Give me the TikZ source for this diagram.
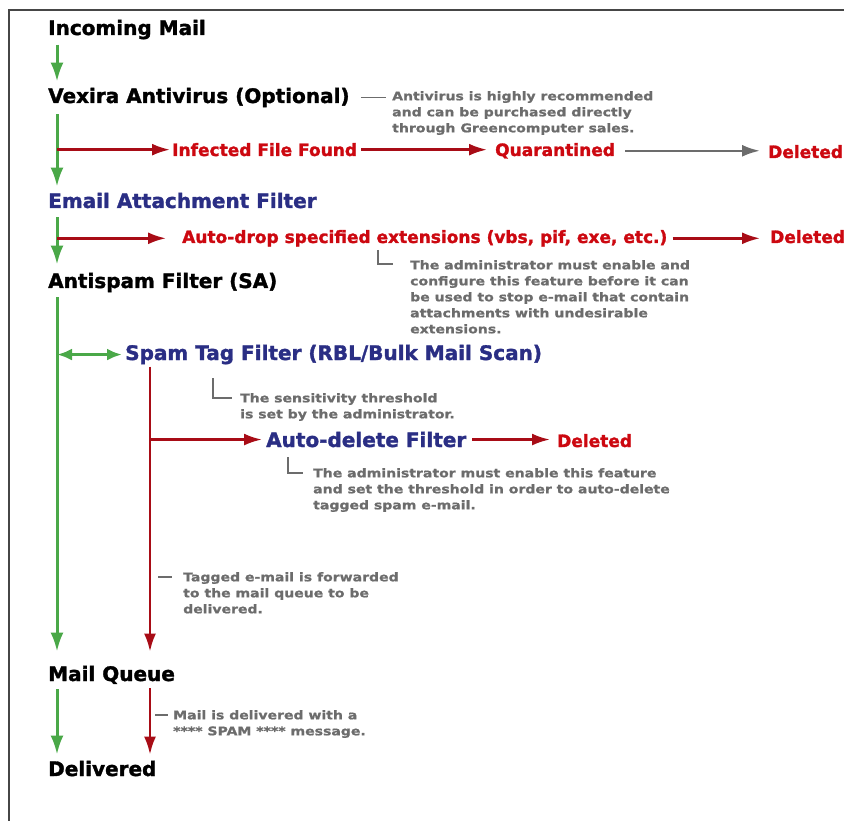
\documentclass[tikz,border=0pt]{standalone}
\usepackage{fontspec}
\usetikzlibrary{arrows.meta}
\newfontfamily\headfont{DejaVu Sans}[BoldFeatures={FakeBold=1.6}]
\newfontfamily\notefont{DejaVu Sans}[FakeStretch=1.17,BoldFeatures={FakeBold=1}]
\definecolor{mailblue}{RGB}{42,46,132}
\definecolor{mailred}{RGB}{204,8,16}
\definecolor{spamred}{RGB}{168,12,22}
\definecolor{flowgreen}{RGB}{74,168,72}
\definecolor{notegray}{RGB}{108,108,108}
\definecolor{framegray}{RGB}{70,70,70}

\begin{document}
\begin{tikzpicture}[x=1pt,y=-1pt,
  header/.style={anchor=base west,inner sep=0pt,font=\headfont\bfseries\fontsize{20}{24}\selectfont},
  filter/.style={header,text=mailblue},
  result/.style={anchor=base west,inner sep=0pt,text=mailred,font=\headfont\bfseries\fontsize{17}{20}\selectfont},
  note/.style={anchor=north west,inner sep=0pt,align=left,text=notegray,font=\notefont\bfseries\fontsize{12}{16}\selectfont},
  noteline/.style={draw=notegray,line width=1.2pt},
  flow/.style={draw=flowgreen,line width=3pt,shorten <=5pt,shorten >=6pt,-{Latex[length=19pt,width=13pt]}},
  flowboth/.style={draw=flowgreen,line width=3pt,{Latex[length=15pt,width=12pt]}-{Latex[length=15pt,width=12pt]}},
  spam/.style={draw=spamred,line width=2.5pt,shorten >=2pt,-{Latex[length=18pt,width=12pt]}},
  purge/.style={draw=notegray,line width=2.5pt,shorten >=8pt,shorten <=10pt,-{Latex[length=18pt,width=12pt]}}]
  \useasboundingbox (0,0) rectangle (844,821);
  \draw[framegray,line width=1.4pt] (844,10) -- (9,10) -- (9,821);
  \coordinate (trunk) at (57,0);
  \coordinate (tagline) at (150,0);

  % main column
  \node[header] (incoming) at (48,35) {Incoming Mail};
  \node[header] (vexira) at (48,103) {Vexira Antivirus (Optional)};
  \node[filter] (email) at (48,208) {Email Attachment Filter};
  \node[header] (antispam) at (48,288) {Antispam Filter (SA)};
  \node[header] (mailqueue) at (48,681) {Mail Queue};
  \node[header] (delivered) at (48,776) {Delivered};

  \node[result] (infected) at (172,156) {Infected File Found};
  \node[result] (quarantined) at (495,156) {Quarantined};
  \node[result] (deleted1) at (768,158) {Deleted};
  \node[result] (autodrop) at (182,243) {Auto-drop specified extensions (vbs, pif, exe, etc.)};
  \node[result] (deleted2) at (770,243) {Deleted};

  \node[filter] (spamtag) at (125,360) {Spam Tag Filter (RBL/Bulk Mail Scan)};
  \node[filter] (autodelete) at (266,447) {Auto-delete Filter};
  \node[result] (deleted3) at (557,447) {Deleted};

  % notes
  \node[note] (avnote) at (392,91) {Antivirus is highly recommended\\and can be purchased directly\\through Greencomputer sales.};
  \node[note] (extnote) at (410,260) {The administrator must enable and\\configure this feature before it can\\be used to stop e-mail that contain\\attachments with undesirable\\extensions.};
  \node[note] (sensnote) at (240,393) {The sensitivity threshold\\is set by the administrator.};
  \node[note] (delnote) at (313,468) {The administrator must enable this feature\\and set the threshold in order to auto-delete\\tagged spam e-mail.};
  \node[note] (fwdnote) at (183,572) {Tagged e-mail is forwarded\\to the mail queue to be\\delivered.};
  \node[note] (spamnote) at (173,710) {Mail is delivered with a\\**** SPAM **** message.};

  % flow
  \draw[flow] (incoming.south -| trunk) -- (vexira.north -| trunk);
  \draw[flow,shorten <=7pt] (vexira.south -| trunk) -- (email.north -| trunk);
  \draw[flow,shorten <=9pt,shorten >=8pt] (email.south -| trunk) -- (antispam.north -| trunk);
  \draw[flow,shorten >=14pt] (antispam.south -| trunk) -- (mailqueue.north -| trunk);
  \draw[flow] (mailqueue.south -| trunk) -- (delivered.north -| trunk);
  \draw[flowboth,shorten >=3pt] (trunk |- spamtag.west) -- (spamtag.west);

  \draw[spam] (trunk |- infected.west) -- (infected.west);
  \draw[spam,shorten <=4pt,shorten >=8pt] (infected.east) -- (infected.east -| quarantined.west);
  \draw[purge] (quarantined.east) -- (quarantined.east -| deleted1.west);
  \draw[spam] (trunk |- autodrop.west) -- ([xshift=-14pt]autodrop.west);
  \draw[spam,shorten <=5pt,shorten >=10pt] (autodrop.east) -- (autodrop.east -| deleted2.west);

  \draw[spam,shorten <=2pt,shorten >=14pt] (spamtag.south -| tagline) -- (mailqueue.north -| tagline);
  \draw[spam,shorten >=4pt] (tagline |- autodelete.west) -- (autodelete.west);
  \draw[spam,shorten <=6pt,shorten >=7pt] (autodelete.east) -- (autodelete.east -| deleted3.west);
  \draw[spam,shorten <=4pt,shorten >=6pt] (mailqueue.south -| tagline) -- (delivered.north -| tagline);

  % note leaders
  \draw[noteline] ([xshift=11pt]vexira.east) -- ([xshift=-6pt]vexira.east -| avnote.west);
  \draw[noteline] ([shift={(-32,-10)}]extnote.north west) |- ([shift={(-17,4)}]extnote.north west);
  \draw[noteline] ([shift={(-27,-15)}]sensnote.north west) |- ([shift={(-8,5)}]sensnote.north west);
  \draw[noteline] ([shift={(-25,-11)}]delnote.north west) |- ([shift={(-10,5)}]delnote.north west);
  \draw[noteline] ([shift={(-25,5)}]fwdnote.north west) -- ([shift={(-11,5)}]fwdnote.north west);
  \draw[noteline] ([shift={(-18,5)}]spamnote.north west) -- ([shift={(-5,5)}]spamnote.north west);
\end{tikzpicture}
\end{document}
